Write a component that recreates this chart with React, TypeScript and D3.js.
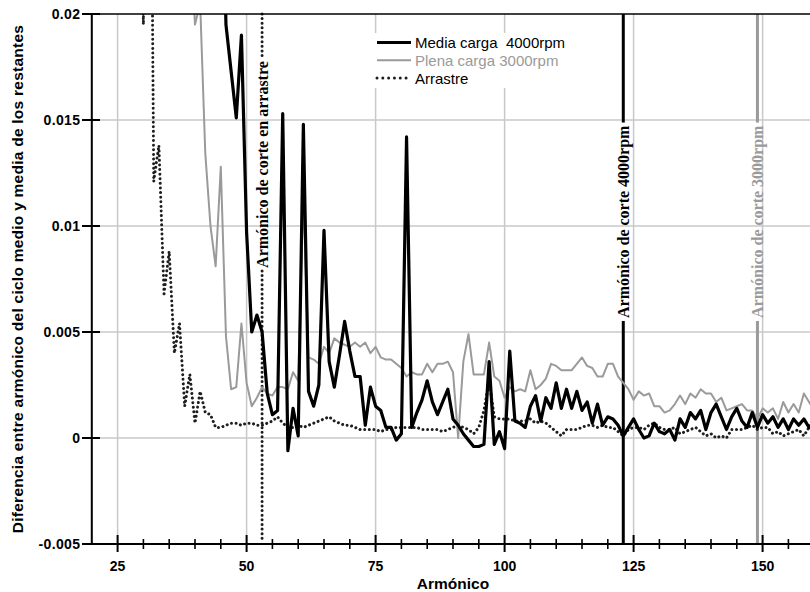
import React from "react";
import * as d3 from "d3";

// ---------- data ----------
const mediaStart = 45; // Media carga 4000rpm, harmonic of first value
const mediaValues = [
  0.030, 0.0195, 0.0173, 0.0151, 0.0190, 0.0097, 0.0050, 0.0058, 0.0050, 0.0021,
  0.0011, 0.0013, 0.0153, -0.0006, 0.0014, 0.0001, 0.0148, 0.0022, 0.0015, 0.0025,
  0.0098, 0.0036, 0.0024, 0.0039, 0.0055, 0.0041, 0.0029, 0.0029, 0.0006, 0.0024,
  0.0015, 0.0013, 0.0005, 0.0005, -0.0001, 0.0002, 0.0142, 0.0005, 0.0012, 0.0018,
  0.0027, 0.0017, 0.0011, 0.0017, 0.0023, 0.0009, 0.0006, 0.0002, -0.0001, -0.0004,
  -0.0004, -0.0003, 0.0036, -0.0003, 0.0003, -0.0005, 0.0041, 0.0008, 0.0007, 0.0005,
  0.0015, 0.0020, 0.0008, 0.0019, 0.0014, 0.0026, 0.0014, 0.0023, 0.0014, 0.0022,
  0.0013, 0.0017, 0.0007, 0.0016, 0.0006, 0.0010, 0.0009, 0.0006, 0.0001, 0.0005,
  0.0009, 0.0004, 0.0000, 0.0001, 0.0007, 0.0003, 0.0002, 0.0004, -0.0001, 0.0009,
  0.0005, 0.0012, 0.0009, 0.0013, 0.0004, 0.0012, 0.0016, 0.0010, 0.0004, 0.0010,
  0.0014, 0.0008, 0.0005, 0.0012, 0.0005, 0.0011, 0.0007, 0.0010, 0.0005, 0.0009,
  0.0004, 0.0009, 0.0006, 0.0009, 0.0005, 0.0008,
];

const plenaStart = 38; // Plena carga 3000rpm
const plenaValues = [
  0.030, 0.024, 0.0195, 0.0205, 0.0134, 0.0100, 0.0081, 0.0128, 0.0048, 0.0023,
  0.0024, 0.0054, 0.0026, 0.0015, 0.0019, 0.0024, 0.0021, 0.0020, 0.0024, 0.0024,
  0.0023, 0.0031, 0.0027, 0.0115, 0.0038, 0.0037, 0.0035, 0.0043, 0.0040, 0.0047,
  0.0045, 0.0044, 0.0043, 0.0045, 0.0043, 0.0045, 0.0040, 0.0043, 0.0038, 0.0037,
  0.0037, 0.0035, 0.0033, 0.0029, 0.0031, 0.0030, 0.0030, 0.0035, 0.0031, 0.0035,
  0.0035, 0.0036, 0.0031, 0.0000, 0.0036, 0.0049, 0.0030, 0.0030, 0.0030, 0.0045,
  0.0029, 0.0027, 0.0019, 0.0024, 0.0022, 0.0023, 0.0022, 0.0032, 0.0023, 0.0025,
  0.0028, 0.0035, 0.0034, 0.0032, 0.0032, 0.0032, 0.0035, 0.0038, 0.0034, 0.0033,
  0.0029, 0.0029, 0.0035, 0.0035, 0.0029, 0.0026, 0.0023, 0.0018, 0.0022, 0.0020,
  0.0021, 0.0015, 0.0015, 0.0012, 0.0013, 0.0016, 0.0020, 0.0016, 0.0021, 0.0019,
  0.0023, 0.0021, 0.0021, 0.0017, 0.0019, 0.0013, 0.0014, 0.0015, 0.0016, 0.0013,
  0.0013, 0.0009, 0.0014, 0.0012, 0.0014, 0.0009, 0.0017, 0.0012, 0.0016, 0.0012,
  0.0021, 0.0017, 0.0013,
];

const arrastreStart = 29; // Arrastre
const arrastreValues = [
  0.030, 0.0195, 0.045, 0.0121, 0.0138, 0.0068, 0.0088, 0.0040, 0.0054, 0.0015,
  0.0030, 0.0007, 0.0022, 0.0012, 0.0011, 0.0005, 0.0005, 0.0006, 0.0007, 0.0007,
  0.0006, 0.0007, 0.0007, 0.0006, 0.0006, 0.0007, 0.0008, 0.0010, 0.0007, 0.0005,
  0.0005, 0.0006, 0.0005, 0.0006, 0.0007, 0.0008, 0.0009, 0.0010, 0.0008, 0.0007,
  0.0006, 0.0006, 0.0005, 0.0004, 0.0004, 0.0004, 0.0004, 0.0003, 0.0004, 0.0004,
  0.0005, 0.0005, 0.0005, 0.0005, 0.0005, 0.0004, 0.0004, 0.0004, 0.0004, 0.0003,
  0.0004, 0.0005, 0.0006, 0.0005, 0.0004, 0.0002, 0.0005, 0.0013, 0.0027, 0.0010,
  0.0009, 0.0009, 0.0009, 0.0008, 0.0008, 0.0008, 0.0009, 0.0007, 0.0008, 0.0007,
  0.0005, 0.0003, 0.0001, 0.0004, 0.0004, 0.0004, 0.0005, 0.0006, 0.0006, 0.0005,
  0.0006, 0.0005, 0.0005, 0.0003, 0.0001, 0.0004, 0.0005, 0.0005, 0.0004, 0.0006,
  0.0007, 0.0005, 0.0004, 0.0004, 0.0005, 0.0002, 0.0003, 0.0004, 0.0005, 0.0003,
  0.0001, 0.0002, 0.0000, 0.0001, 0.0000, 0.0004, 0.0004, 0.0004, 0.0005, 0.0006,
  0.0004, 0.0005, 0.0005, 0.0002, 0.0003, 0.0001, 0.0002, 0.0003, 0.0004, 0.0001,
  0.0005, 0.0005,
];

const cutoffs = [
  { h: 53, label: "Armónico de corte en arrastre", kind: "dotted", center: 0.0129, bottom: -0.0048 },
  { h: 123, label: "Armónico de corte 4000rpm", kind: "black", center: 0.0102, bottom: -0.005 },
  { h: 149, label: "Armónico de corte 3000rpm", kind: "grey", center: 0.0102, bottom: -0.005 },
];

const xMajorTicks = [25, 50, 75, 100, 125, 150];
const xMinorTicks = [30, 35, 40, 45, 55, 60, 65, 70, 80, 85, 90, 95, 105, 110, 115, 120, 130, 135, 140, 145, 155];
const yTicks = [-0.005, 0, 0.005, 0.01, 0.015, 0.02];
const yTickLabels = ["-0.005", "0", "0.005", "0.01", "0.015", "0.02"];
const yGrid = [0, 0.005, 0.01, 0.015];

const legendItems = [
  { label: "Media carga  4000rpm", kind: "black" },
  { label: "Plena carga 3000rpm", kind: "grey" },
  { label: "Arrastre", kind: "dotted" },
];

// ---------- layout ----------
const W = 810;
const H = 592;
const left = 91.8;
const top = 14;
const bottom = 544;
const GREY = "#9a9a9a";
const DOT = "#1e1e1e";
const SANS = "'Liberation Sans', Arial, Helvetica, sans-serif";
const SERIF = "'Liberation Serif', 'Times New Roman', serif";

const x = d3.scaleLinear().domain([20, 160]).range([left, 814.2]);
const y = d3.scaleLinear().domain([-0.005, 0.02]).range([bottom, top]);

const toPts = (start: number, vals: number[]) => vals.map((v, i) => [start + i, v] as [number, number]);
const line = d3
  .line<[number, number]>()
  .x((d) => x(d[0]))
  .y((d) => y(d[1]));

const styleFor = (kind: string) => {
  if (kind === "black") return { stroke: "#000", strokeWidth: 3.2, strokeLinejoin: "round" as const };
  if (kind === "grey") return { stroke: GREY, strokeWidth: 2, strokeLinejoin: "round" as const };
  return { stroke: DOT, strokeWidth: 3, strokeDasharray: "0.01 4.6", strokeLinecap: "round" as const };
};

function measure(text: string, font: string): number {
  const c = document.createElement("canvas").getContext("2d");
  if (!c) return text.length * 8;
  c.font = font;
  return c.measureText(text).width;
}

export default function App() {
  const annFont = `bold 16px ${SERIF}`;
  return (
    <svg width={W} height={H} style={{ position: "absolute", left: 0, top: 0, background: "#fff" }}>
      <defs>
        <clipPath id="plot">
          <rect x={left} y={top} width={W - left} height={bottom - top} />
        </clipPath>
      </defs>
      <rect x={0} y={0} width={W} height={H} fill="#fff" />

      {/* grid */}
      {xMajorTicks.map((t) => (
        <line key={"gx" + t} x1={x(t)} x2={x(t)} y1={top} y2={bottom} stroke="#c8c8c8" strokeWidth={1.5} />
      ))}
      {yGrid.map((t) => (
        <line key={"gy" + t} x1={left} x2={W} y1={y(t)} y2={y(t)} stroke="#c8c8c8" strokeWidth={1.5} />
      ))}

      {/* legend background */}
      <rect x={372} y={33} width={216} height={55} fill="#fff" />

      {/* cutoff lines */}
      {cutoffs.map((c) => {
        const cx = x(c.h);
        const cy = y(c.center);
        const len = measure(c.label, annFont);
        const s = styleFor(c.kind);
        const lineStyle =
          c.kind === "dotted"
            ? s
            : { stroke: c.kind === "grey" ? GREY : "#000", strokeWidth: 3 };
        return (
          <g key={"c" + c.h}>
            <line x1={cx} x2={cx} y1={top} y2={cy - len / 2 - 3} {...lineStyle} fill="none" />
            <line x1={cx} x2={cx} y1={cy + len / 2 + 3} y2={y(c.bottom)} {...lineStyle} fill="none" />
            <text
              transform={`translate(${cx + 5.5},${cy}) rotate(-90)`}
              textAnchor="middle"
              fontFamily={SERIF}
              fontWeight="bold"
              fontSize={16}
              fill={c.kind === "grey" ? GREY : "#000"}
            >
              {c.label}
            </text>
          </g>
        );
      })}

      {/* series */}
      <g clipPath="url(#plot)" fill="none">
        <path d={line(toPts(arrastreStart, arrastreValues)) || ""} {...styleFor("dotted")} />
        <path d={line(toPts(plenaStart, plenaValues)) || ""} {...styleFor("grey")} />
        <path d={line(toPts(mediaStart, mediaValues)) || ""} {...styleFor("black")} />
      </g>

      {/* axes */}
      <line x1={left} x2={W} y1={top} y2={top} stroke="#000" strokeWidth={1.6} />
      <line x1={left} x2={left} y1={top} y2={bottom} stroke="#000" strokeWidth={2} />
      <line x1={left} x2={W} y1={bottom} y2={bottom} stroke="#000" strokeWidth={2} />
      {yTicks.map((t, i) => (
        <g key={"yt" + t}>
          <line x1={82} x2={100} y1={y(t)} y2={y(t)} stroke="#000" strokeWidth={2} />
          <text x={80.5} y={y(t)} dy="0.36em" textAnchor="end" fontFamily={SANS} fontWeight="bold" fontSize={14} letterSpacing={0.4}>
            {yTickLabels[i]}
          </text>
        </g>
      ))}
      {xMajorTicks.map((t) => (
        <g key={"xt" + t}>
          <line x1={x(t)} x2={x(t)} y1={535} y2={552} stroke="#000" strokeWidth={2} />
          <text x={x(t)} y={571} textAnchor="middle" fontFamily={SANS} fontWeight="bold" fontSize={14}>
            {t}
          </text>
        </g>
      ))}
      {xMinorTicks.map((t) => (
        <line key={"xm" + t} x1={x(t)} x2={x(t)} y1={539} y2={549} stroke="#000" strokeWidth={1.6} />
      ))}

      {/* axis titles */}
      <text x={(left + 814.2) / 2} y={589} textAnchor="middle" fontFamily={SANS} fontWeight="bold" fontSize={15.5}>
        Armónico
      </text>
      <text
        transform={`translate(23,279) rotate(-90)`}
        textAnchor="middle"
        fontFamily={SANS}
        fontWeight="bold"
        fontSize={15.5}
        letterSpacing={0.25}
      >
        Diferencia entre armónico del ciclo medio y media de los restantes
      </text>

      {/* legend */}
      {legendItems.map((it, i) => {
        const ly = 42.5 + i * 17.8;
        return (
          <g key={"lg" + i}>
            <line x1={377} x2={411} y1={ly} y2={ly} {...styleFor(it.kind)} strokeDasharray={it.kind === "dotted" ? "0.01 5.8" : undefined} />
            <text x={415} y={ly + 5.5} fontFamily={SANS} fontSize={15} fill={it.kind === "grey" ? GREY : "#000"} style={{ whiteSpace: "pre" }}>
              {it.label}
            </text>
          </g>
        );
      })}
    </svg>
  );
}
